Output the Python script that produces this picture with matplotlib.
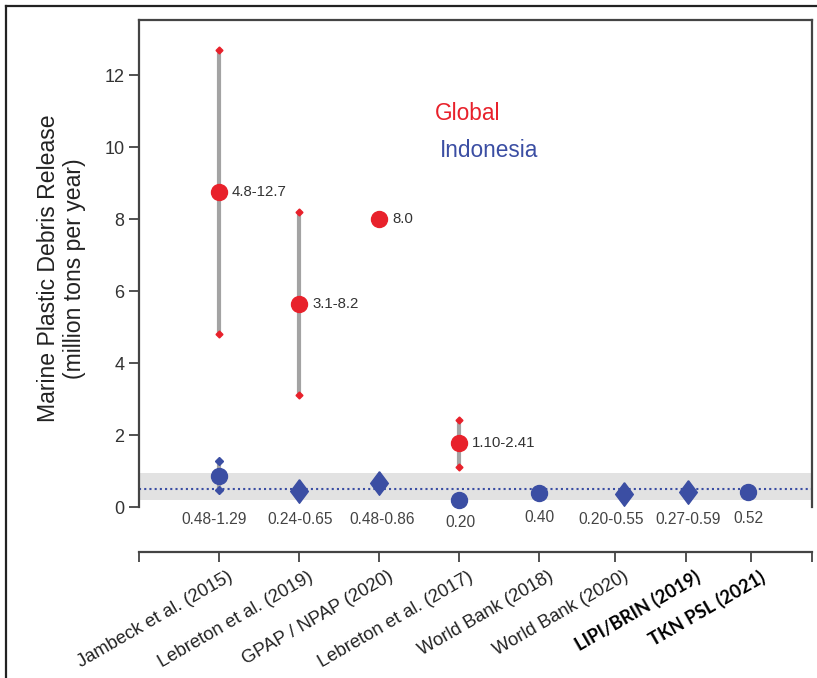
import matplotlib.pyplot as plt
from matplotlib.lines import Line2D
from matplotlib.transforms import ScaledTranslation

plt.rcParams["font.family"] = ["Liberation Sans", "DejaVu Sans"]

# x positions of the studies on the axis
STUDIES = [
    "Jambeck et al. (2015)",
    "Lebreton et al. (2019)",
    "GPAP / NPAP (2020)",
    "Lebreton et al. (2017)",
    "World Bank (2018)",
    "World Bank (2020)",
    "LIPI/BRIN (2019)",
    "TKN PSL (2021)",
]
TICK_POS = [1, 2, 3, 4, 5, 5.94, 6.83, 7.64]
BOLD_LABELS = ["LIPI/BRIN (2019)", "TKN PSL (2021)"]

# global estimates (million tons per year)
GLOBAL_X = [1, 2, 3, 4]
GLOBAL_MID = [8.76, 5.65, 8.0, 1.77]
GLOBAL_LOW = [4.8, 3.1, None, 1.10]
GLOBAL_HIGH = [12.7, 8.2, None, 2.41]
GLOBAL_LABELS = ["4.8-12.7", "3.1-8.2", "8.0", "1.10-2.41"]

# indonesia estimates
INDO_X = [1, 2, 3, 4, 5, 6.05, 6.85, 7.6]
INDO_MID = [0.87, 0.445, 0.67, 0.20, 0.40, 0.375, 0.43, 0.42]
INDO_LOW = [0.48, 0.24, 0.48, None, None, 0.20, 0.27, None]
INDO_HIGH = [1.29, 0.65, 0.86, None, None, 0.55, 0.59, None]
INDO_SHAPE = ["o", "D", "D", "o", "o", "D", "D", "o"]
INDO_LABELS = ["0.48-1.29", "0.24-0.65", "0.48-0.86", "0.20", "0.40",
               "0.20-0.55", "0.27-0.59", "0.52"]
INDO_LABEL_X = [0.94, 2.01, 3.03, 4.01, 5.0, 5.9, 6.85, 7.61]
INDO_LABEL_Y = [-0.36, -0.36, -0.36, -0.43, -0.28, -0.36, -0.36, -0.33]

INDO_BAND = (0.19, 0.94)
INDO_MEAN = 0.49

RED = "#e8212b"
BLUE = "#3b4ea3"
GREY = "#a3a3a3"
TEXT = "#333333"

DIAMOND = [(0, 1), (0.75, 0), (0, -1), (-0.75, 0), (0, 1)]


def main():
    fig = plt.figure(figsize=(8.17, 6.78), dpi=100)
    ax = fig.add_axes([0.1701, 0.2522, 0.8236, 0.7183])

    # outer frame: only top and left edges show
    fig.lines.append(Line2D([6 / 817, 1], [1 - 6 / 678, 1 - 6 / 678],
                            transform=fig.transFigure, color="#222222",
                            linewidth=1.6))
    fig.lines.append(Line2D([6 / 817, 6 / 817], [0, 1 - 6 / 678],
                            transform=fig.transFigure, color="#222222",
                            linewidth=1.6))

    ax.axhspan(INDO_BAND[0], INDO_BAND[1], color="#e2e2e2", zorder=0, lw=0)
    ax.axhline(INDO_MEAN, color=BLUE, linestyle=(0, (1, 1.5)), linewidth=1.5,
               zorder=1)

    # global
    for x, mid, lo, hi, lab in zip(GLOBAL_X, GLOBAL_MID, GLOBAL_LOW,
                                   GLOBAL_HIGH, GLOBAL_LABELS):
        if lo is not None:
            ax.plot([x, x], [lo, hi], color=GREY, linewidth=3, zorder=2,
                    solid_capstyle="butt")
            ax.plot([x, x], [lo, hi], linestyle="none", marker="D",
                    markersize=3.5, color=RED, zorder=3)
        ax.plot(x, mid, marker="o", markersize=11.5, color=RED, zorder=4)
        ax.text(x + 0.16, mid, lab, fontsize=10.8, color=TEXT, va="center",
                ha="left")

    # indonesia
    for x, mid, lo, hi, shape in zip(INDO_X, INDO_MID, INDO_LOW, INDO_HIGH,
                                     INDO_SHAPE):
        if shape == "o":
            if lo is not None:
                ax.plot([x, x], [lo, hi], color=GREY, linewidth=3, zorder=2)
                ax.plot([x, x], [lo, hi], linestyle="none", marker="D",
                        markersize=4, color=BLUE, zorder=3)
            ax.plot(x, mid, marker="o", markersize=11.5, color=BLUE,
                    zorder=4, clip_on=False)
        else:
            ax.plot(x, mid, marker=DIAMOND, markersize=17, color=BLUE,
                    zorder=4, clip_on=False)

    for x, y, lab in zip(INDO_LABEL_X, INDO_LABEL_Y, INDO_LABELS):
        ax.text(x, y, lab, fontsize=11.2, color="#444444", ha="center",
                va="center")

    ax.text(3.7, 10.94, "Global", color=RED, fontsize=16.3, va="center")
    ax.text(3.76, 9.9, "Indonesia", color=BLUE, fontsize=16.3, va="center")

    # spine position first: it resets the ticks
    ax.spines["bottom"].set_position(("outward", 32.4))
    for side in ["left", "right", "top", "bottom"]:
        ax.spines[side].set_linewidth(1.6)
        ax.spines[side].set_color("#444444")

    ax.set_xlim(0, 8.4)
    ax.set_ylim(0, 13.53)
    ax.set_yticks(range(0, 13, 2))
    ax.tick_params(axis="y", labelsize=13, length=7, width=1.3,
                   labelcolor=TEXT, color="#444444")

    ax.set_xticks([0] + TICK_POS + [8.4])
    ax.set_xticklabels([""] + STUDIES + [""])
    ax.tick_params(axis="x", length=7, width=1.3, direction="out",
                   color="#444444", pad=4.5)
    shift = ScaledTranslation(8 / 100, 0, fig.dpi_scale_trans)
    for lab in ax.get_xticklabels():
        lab.set_rotation(30)
        lab.set_ha("right")
        lab.set_rotation_mode("anchor")
        lab.set_fontsize(13.2)
        lab.set_transform(lab.get_transform() + shift)
        if lab.get_text() in BOLD_LABELS:
            lab.set_fontfamily(["Lato", "DejaVu Sans"])
            lab.set_fontweight("bold")
            lab.set_color("black")
        else:
            lab.set_color("#222222")

    ax.set_ylabel("Marine Plastic Debris Release\n(million tons per year)",
                  fontsize=16.6, color="#222222", labelpad=13)
    ax.yaxis.label.set_y(0.49)

    fig.savefig("out.png", dpi=100)


if __name__ == "__main__":
    main()
